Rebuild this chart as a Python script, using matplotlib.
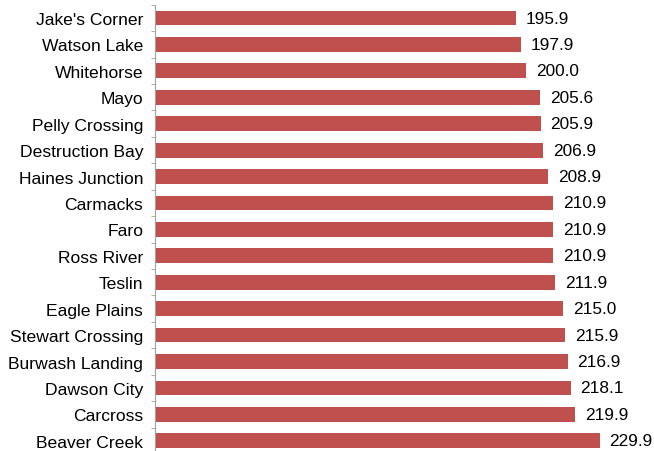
import matplotlib
matplotlib.use("Agg")
import matplotlib.pyplot as plt
import numpy as np

categories = ["Jake's Corner", "Watson Lake", "Whitehorse", "Mayo", "Pelly Crossing",
              "Destruction Bay", "Haines Junction", "Carmacks", "Faro", "Ross River",
              "Teslin", "Eagle Plains", "Stewart Crossing", "Burwash Landing",
              "Dawson City", "Carcross", "Beaver Creek"]
values = [195.9, 197.9, 200.0, 205.6, 205.9, 206.9, 208.9, 210.9, 210.9, 210.9,
          211.9, 215.0, 215.9, 216.9, 218.1, 219.9, 229.9]

plt.rcParams['font.family'] = ['Liberation Sans', 'DejaVu Sans']

fig = plt.figure(figsize=(6.54, 4.52), dpi=100)
ax = fig.add_axes([155/654, -3/452, 1 - 155/654, (455 - 5.8)/452])

y = np.arange(len(categories))
ax.barh(y, values, height=0.56, color='#C0504D', zorder=2)
ax.set_xlim(49, 252)
ax.set_ylim(len(categories) - 0.5, -0.5)

for yi, v in zip(y, values):
    ax.annotate(f"{v:.1f}", (v, yi), xytext=(7, 0), textcoords='offset points',
                va='center', ha='left', fontsize=12.4, color='black')

ax.set_yticks(y)
ax.set_yticklabels(categories, fontsize=12.6)
ax.tick_params(axis='y', which='major', length=0, pad=8.5)
ax.set_yticks(np.arange(-0.5, len(categories), 1), minor=True)
ax.tick_params(axis='y', which='minor', length=3, color='#A0A0A0', direction='out')
ax.set_xticks([])
for s in ['top', 'right', 'bottom']:
    ax.spines[s].set_visible(False)
ax.spines['left'].set_color('#A0A0A0')

fig.savefig('out.png', dpi=100)
